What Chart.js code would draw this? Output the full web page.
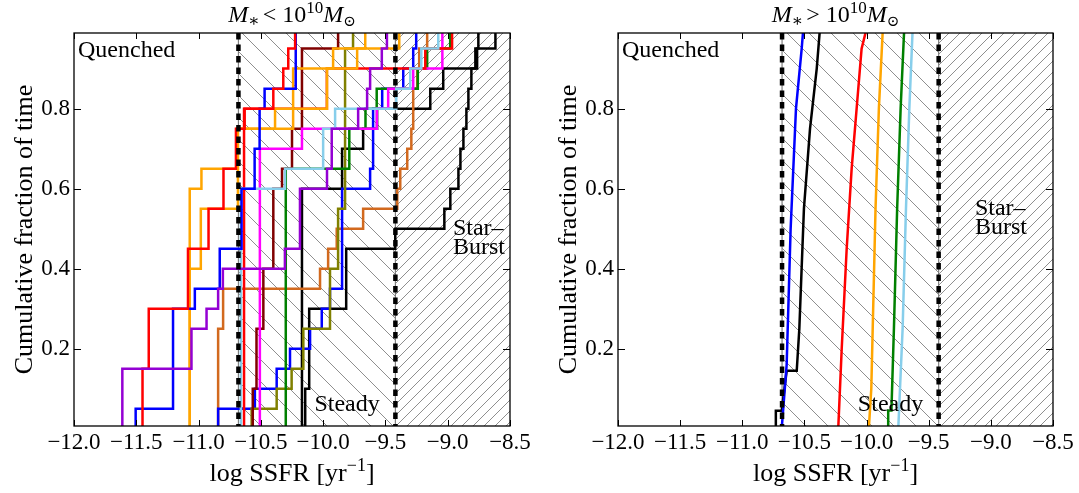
<!DOCTYPE html>
<html><head><meta charset="utf-8">
<script src="https://cdn.jsdelivr.net/npm/chart.js@4.4.1/dist/chart.umd.min.js"></script>
<style>
html,body{margin:0;padding:0;background:#fff;}
#wrap{position:relative;width:1079px;height:493px;overflow:hidden;background:#fff;}
canvas{position:absolute;top:0;}
</style></head>
<body><div id="wrap">
<canvas id="left" width="545" height="493" style="left:0;width:545px;height:493px"></canvas>
<canvas id="right" width="534" height="493" style="left:545px;width:534px;height:493px"></canvas>
</div>
<script>
// ---------- axes ----------
const xTickValues = [-12.0, -11.5, -11.0, -10.5, -10.0, -9.5, -9.0, -8.5];
const yTickValues = [0.2, 0.4, 0.6, 0.8];
const X_MIN = -12.0, X_MAX = -8.5, Y_MIN = 0.007, Y_MAX = 0.989;
const steadyLow = -10.68;   // quenched / steady boundary
const burstLow = -9.42;     // steady / starburst boundary

// ---------- left panel (M* < 1e10): cumulative step curves ----------
// X = log SSFR where the curve rises, Y = cumulative level reached there
const lowPurpleX = [-11.612, -11.057, -10.936, -10.843, -10.805, -10.307, -10.186, -9.969, -9.931, -9.719, -9.647, -9.623, -9.529, -9.488];
const lowPurpleY = [0.15, 0.25, 0.30, 0.35, 0.40, 0.45, 0.60, 0.65, 0.75, 0.80, 0.85, 0.90, 0.95, 1.0];
const lowRed1X = [-11.45, -11.40, -11.085, -10.92, -10.80, -10.70, -10.63, -10.40, -10.32, -10.28, -10.225];
const lowRed1Y = [0.15, 0.30, 0.45, 0.55, 0.65, 0.75, 0.80, 0.85, 0.90, 0.95, 1.0];
const lowBlue1X = [-11.505, -11.205, -11.03, -10.83, -10.655, -10.55, -10.51, -10.47, -10.22];
const lowBlue1Y = [0.05, 0.30, 0.35, 0.45, 0.60, 0.70, 0.80, 0.85, 1.0];
const lowOrange1X = [-11.071, -10.977, -10.693, -10.386, -9.969, -9.920, -9.389];
const lowOrange1Y = [0.60, 0.65, 0.75, 0.80, 0.90, 0.95, 1.0];
const lowOrange2X = [-11.071, -10.982, -10.684, -10.241, -9.727, -9.662];
const lowOrange2Y = [0.40, 0.55, 0.75, 0.90, 0.95, 1.0];
const lowSkyX = [-10.660, -10.306, -10.000, -9.904, -9.413, -9.301, -9.212, -9.076];
const lowSkyY = [0.60, 0.65, 0.75, 0.80, 0.85, 0.90, 0.95, 1.0];
const lowRed2X = [-10.635, -9.97, -9.18, -8.965];
const lowRed2Y = [0.80, 0.90, 0.95, 1.0];
const lowMagentaX = [-10.508, -10.170, -9.569, -9.478, -9.277, -9.043];
const lowMagentaY = [0.70, 0.75, 0.80, 0.85, 0.90, 1.0];
const lowMaroonX = [-10.565, -10.535, -10.48, -10.40, -10.33, -10.25, -10.17, -9.88];
const lowMaroonY = [0.10, 0.25, 0.40, 0.60, 0.65, 0.75, 0.95, 1.0];
const lowGreenX = [-10.30, -9.79, -9.66, -9.57, -9.24, -9.165, -8.98];
const lowGreenY = [0.65, 0.75, 0.80, 0.85, 0.90, 0.95, 1.0];
const lowOliveX = [-10.574, -10.373, -10.253, -10.159, -9.945, -9.880, -9.824, -9.760];
const lowOliveY = [0.05, 0.10, 0.15, 0.25, 0.40, 0.55, 0.95, 1.0];
const lowBlue2X = [-10.843, -10.548, -10.373, -10.266, -10.105, -10.011, -9.945, -9.848, -9.623, -9.599, -9.526, -9.357, -9.277, -9.253];
const lowBlue2Y = [0.05, 0.10, 0.15, 0.20, 0.25, 0.30, 0.35, 0.60, 0.65, 0.80, 0.85, 0.90, 0.95, 1.0];
const lowChocX = [-10.843, -10.803, -10.025, -9.960, -9.891, -9.679, -9.405, -9.381, -9.325, -9.292, -9.277, -9.245, -9.229, -9.165];
const lowChocY = [0.25, 0.35, 0.40, 0.45, 0.50, 0.55, 0.60, 0.65, 0.70, 0.75, 0.85, 0.90, 0.95, 1.0];
const lowBlack1X = [-10.144, -10.112, -9.815, -9.421, -9.027, -8.979, -8.914, -8.898, -8.874, -8.850, -8.834, -8.810, -8.778, -8.754];
const lowBlack1Y = [0.10, 0.30, 0.45, 0.50, 0.55, 0.60, 0.65, 0.70, 0.75, 0.80, 0.85, 0.90, 0.95, 1.0];
const lowBlack2X = [-10.170, -9.848, -9.679, -9.567, -9.140, -9.036, -8.764, -8.617];
const lowBlack2Y = [0.60, 0.70, 0.75, 0.80, 0.85, 0.90, 0.95, 1.0];

// ---------- right panel (M* > 1e10): finely stepped curves, read at a few levels ----------
const highBlueX = [-10.683, -10.643, -10.611, -10.568, -10.522, -10.509];
const highBlueY = [0.0, 0.16, 0.50, 0.80, 0.95, 1.0];
const highBlackX = [-10.73, -10.73, -10.683, -10.643, -10.562, -10.541, -10.504, -10.455, -10.401, -10.375];
const highBlackY = [0.0, 0.045, 0.045, 0.145, 0.145, 0.25, 0.55, 0.75, 0.90, 1.0];
const highRedX = [-10.228, -10.200, -10.160, -10.120, -10.080, -10.040, -10.000];
const highRedY = [0.0, 0.20, 0.45, 0.65, 0.80, 0.95, 1.0];
const highOrangeX = [-9.982, -9.962, -9.928, -9.901, -9.869];
const highOrangeY = [0.0, 0.10, 0.55, 0.80, 1.0];
const highGreenX = [-9.826, -9.826, -9.800, -9.780, -9.754, -9.726, -9.697];
const highGreenY = [0.0, 0.046, 0.046, 0.25, 0.55, 0.80, 1.0];
const highSkyX = [-9.745, -9.710, -9.683, -9.656, -9.629];
const highSkyY = [0.0, 0.25, 0.55, 0.80, 1.0];

// ---------- helpers ----------
const SERIF = '"Liberation Serif", "DejaVu Serif", serif';
const C = {red:'#ff0000', blue:'#0000ff', orange:'#ffa500', maroon:'#800000', magenta:'#ff00ff',
  olive:'#808000', purple:'#9400d3', sky:'#87ceeb', green:'#008000', black:'#000000', choc:'#d2691e'};

function stepPts(xs, ys){ const p=[{x:xs[0], y:0}]; xs.forEach((x,i)=>p.push({x:x, y:ys[i]})); return p; }
function linePts(xs, ys){ return xs.map((x,i)=>({x:x, y:ys[i]})); }
function fmtTick(v){ const s=Math.abs(v).toFixed(1); return (v<0?'\u2212':'')+s; }

function hatch(ctx, a, x1, x2, sp, dir){
  ctx.save();
  ctx.beginPath(); ctx.rect(x1, a.top, x2-x1, a.bottom-a.top); ctx.clip();
  ctx.strokeStyle='rgba(40,40,40,0.75)'; ctx.lineWidth=0.7;
  const H=a.bottom-a.top;
  ctx.beginPath();
  const start=Math.floor((x1-H)/sp)*sp-sp;
  for(let x=start; x<x2+H+sp; x+=sp){
    if(dir>0){ ctx.moveTo(x, a.bottom); ctx.lineTo(x+H, a.top); }
    else { ctx.moveTo(x, a.top); ctx.lineTo(x+H, a.bottom); }
  }
  ctx.stroke(); ctx.restore();
}

function drawRich(ctx, parts, x, baseline, align){
  let w=0;
  parts.forEach(p=>{ctx.font=p.f; p.w=ctx.measureText(p.t).width; w+=p.w+(p.gap||0);});
  let cx = align==='center' ? x-w/2 : x;
  ctx.textAlign='left'; ctx.textBaseline='alphabetic';
  parts.forEach(p=>{ctx.font=p.f; ctx.fillText(p.t, cx, baseline+(p.dy||0)); cx+=p.w+(p.gap||0);});
}

const decor = {
  id:'decor',
  beforeDatasetsDraw(chart){
    const {ctx, chartArea:a} = chart; const x=chart.scales.x;
    const xs=x.getPixelForValue(steadyLow), xb=x.getPixelForValue(burstLow);
    hatch(ctx, a, xs, xb, 22, -1);
    hatch(ctx, a, xb, a.right, 11, 1);
    ctx.save(); ctx.strokeStyle='#808080'; ctx.lineWidth=1.2; ctx.beginPath();
    ctx.moveTo(xs,a.top); ctx.lineTo(xs,a.bottom); ctx.moveTo(xb,a.top); ctx.lineTo(xb,a.bottom);
    ctx.stroke(); ctx.restore();
  },
  afterDatasetsDraw(chart, args, o){
    const {ctx, chartArea:a} = chart; const x=chart.scales.x, y=chart.scales.y;
    const xs=x.getPixelForValue(steadyLow), xb=x.getPixelForValue(burstLow);
    ctx.save();
    ctx.strokeStyle='#000'; ctx.lineWidth=4.5; ctx.setLineDash([6.5,5]);
    ctx.beginPath(); ctx.moveTo(xs,a.top); ctx.lineTo(xs,a.bottom); ctx.moveTo(xb,a.top); ctx.lineTo(xb,a.bottom); ctx.stroke();
    ctx.setLineDash([]);
    ctx.lineWidth=1.3; ctx.strokeRect(a.left, a.top, a.right-a.left, a.bottom-a.top);
    ctx.lineWidth=1; ctx.beginPath();
    xTickValues.forEach(v=>{const p=Math.round(x.getPixelForValue(v))+0.5; ctx.moveTo(p,a.bottom); ctx.lineTo(p,a.bottom-6); ctx.moveTo(p,a.top); ctx.lineTo(p,a.top+6);});
    yTickValues.forEach(v=>{const p=Math.round(y.getPixelForValue(v))+0.5; ctx.moveTo(a.left,p); ctx.lineTo(a.left+7,p); ctx.moveTo(a.right,p); ctx.lineTo(a.right-7,p);});
    ctx.stroke();
    ctx.restore();
  },
  afterDraw(chart, args, o){
    const {ctx, chartArea:a} = chart; const x=chart.scales.x;
    ctx.save(); ctx.fillStyle='#000';
    const F=24;
    ctx.font=F+'px '+SERIF; ctx.textAlign='left'; ctx.textBaseline='alphabetic';
    ctx.fillText('Quenched', a.left+4, 57);
    ctx.fillText('Steady', x.getPixelForValue(o.steadyX), 411);
    const bx=x.getPixelForValue(o.burstX);
    ctx.fillText('Star\u2013', bx, o.burstBase);
    ctx.fillText('Burst', bx, o.burstBase+19);
    // panel title
    const cx=(a.left+a.right)/2;
    drawRich(ctx, [
      {t:'M', f:'italic 24px '+SERIF},
      {t:'\u2217', f:'17px '+SERIF, dy:4, gap:3},
      {t:o.op+' 10', f:'24px '+SERIF},
      {t:'10', f:'17px '+SERIF, dy:-9},
      {t:'M', f:'italic 24px '+SERIF},
      {t:'\u2299', f:'15px '+SERIF, dy:4}
    ], cx, 22, 'center');
    // x axis title
    drawRich(ctx, [
      {t:'log SSFR [yr', f:'26px '+SERIF},
      {t:'\u22121', f:'18px '+SERIF, dy:-10},
      {t:']', f:'26px '+SERIF}
    ], cx, 481, 'center');
    // y axis title
    ctx.translate(a.left-42, (a.top+a.bottom)/2);
    ctx.rotate(-Math.PI/2);
    ctx.font='26px '+SERIF; ctx.textAlign='center'; ctx.textBaseline='alphabetic';
    ctx.fillText('Cumulative fraction of time', 0, 0);
    ctx.restore();
  }
};

function makeChart(id, datasets, leftW, padRight, opts){
  return new Chart(document.getElementById(id), {
    type:'line',
    data:{datasets:datasets},
    options:{
      responsive:false, animation:false, devicePixelRatio:1, parsing:true,
      layout:{padding:{top:33, right:padRight, left:0, bottom:0}},
      plugins:{legend:{display:false}, tooltip:{enabled:false}, title:{display:false}, decor:opts},
      elements:{point:{radius:0, hoverRadius:0}, line:{tension:0, fill:false}},
      scales:{
        x:{type:'linear', min:X_MIN, max:X_MAX,
          afterBuildTicks:s=>{s.ticks=xTickValues.map(v=>({value:v}));},
          afterFit:s=>{s.height=67;},
          grid:{display:false, drawTicks:false}, border:{display:false},
          ticks:{font:{family:SERIF, size:23}, color:'#000', padding:3, maxRotation:0, autoSkip:false, callback:v=>fmtTick(v)}},
        y:{type:'linear', min:Y_MIN, max:Y_MAX,
          afterBuildTicks:s=>{s.ticks=yTickValues.map(v=>({value:v}));},
          afterFit:s=>{s.width=leftW;},
          grid:{display:false, drawTicks:false}, border:{display:false},
          ticks:{font:{family:SERIF, size:23}, color:'#000', padding:4, autoSkip:false, callback:v=>v.toFixed(1)}}
      }
    },
    plugins:[decor]
  });
}

function sds(xs, ys, color){ return {data:stepPts(xs,ys), borderColor:color, borderWidth:2.5, stepped:true, clip:0}; }
function lds(xs, ys, color){ return {data:linePts(xs,ys), borderColor:color, borderWidth:2.5, stepped:false, clip:0}; }

makeChart('left', [
  sds(lowPurpleX, lowPurpleY, C.purple),
  sds(lowRed1X, lowRed1Y, C.red),
  sds(lowBlue1X, lowBlue1Y, C.blue),
  sds(lowOrange2X, lowOrange2Y, C.orange),
  sds(lowOrange1X, lowOrange1Y, C.orange),
  sds(lowSkyX, lowSkyY, C.sky),
  sds(lowRed2X, lowRed2Y, C.red),
  sds(lowMagentaX, lowMagentaY, C.magenta),
  sds(lowMaroonX, lowMaroonY, C.maroon),
  sds(lowGreenX, lowGreenY, C.green),
  sds(lowOliveX, lowOliveY, C.olive),
  sds(lowBlue2X, lowBlue2Y, C.blue),
  sds(lowChocX, lowChocY, C.choc),
  sds(lowBlack1X, lowBlack1Y, C.black),
  sds(lowBlack2X, lowBlack2Y, C.black)
], 74, 35, {op:'<', steadyX:-10.07, burstX:-8.958, burstBase:235});

makeChart('right', [
  lds(highBlueX, highBlueY, C.blue),
  lds(highBlackX, highBlackY, C.black),
  lds(highRedX, highRedY, C.red),
  lds(highOrangeX, highOrangeY, C.orange),
  lds(highGreenX, highGreenY, C.green),
  lds(highSkyX, highSkyY, C.sky)
], 73, 26, {op:'>', steadyX:-10.07, burstX:-9.128, burstBase:215});
</script>
</body></html>
